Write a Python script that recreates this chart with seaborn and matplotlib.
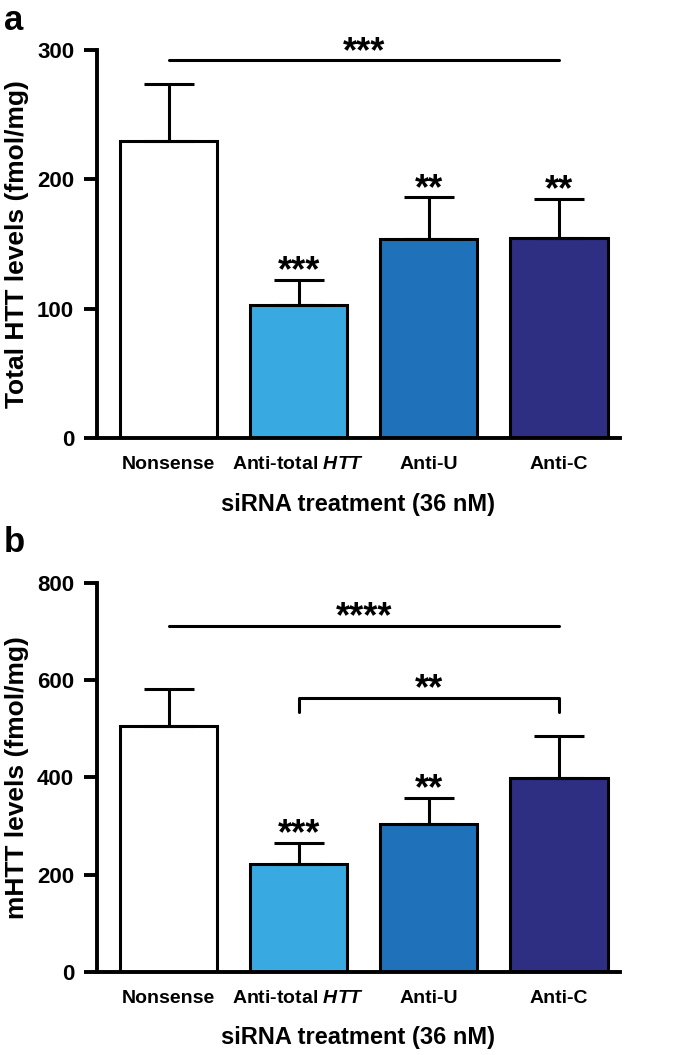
import numpy as np
import pandas as pd
import matplotlib
matplotlib.use("Agg")
import matplotlib.pyplot as plt
import seaborn as sb

groups = ["Nonsense", "Anti-total HTT", "Anti-U", "Anti-C"]
tick_labels = ["Nonsense", "Anti-total $\\mathit{HTT}$", "Anti-U", "Anti-C"]
bar_colors = ["#FFFFFF", "#38A9E1", "#1F72B9", "#2E2E83"]

total_mean = [230, 103, 154, 155]
total_err = [44, 19, 32, 30]
total_stars = ["", "***", "**", "**"]

mhtt_mean = [505, 222, 305, 398]
mhtt_err = [76, 43, 53, 87]
mhtt_stars = ["", "***", "**", ""]

sb.set_style("ticks")
plt.rcParams["font.family"] = ["Liberation Sans", "DejaVu Sans"]
plt.rcParams["font.weight"] = "bold"
plt.rcParams["mathtext.fontset"] = "custom"
plt.rcParams["mathtext.it"] = "Liberation Sans:italic:bold"
plt.rcParams["mathtext.rm"] = "Liberation Sans:bold"
for k in ["text.color", "axes.labelcolor", "xtick.color", "ytick.color", "axes.edgecolor"]:
    plt.rcParams[k] = "black"

fig = plt.figure(figsize=(6.85, 10.55), dpi=100)
ax1 = fig.add_axes([0.1416, 0.5848, 0.7634, 0.3678])
ax2 = fig.add_axes([0.1416, 0.0787, 0.7634, 0.3687])


def stars_at(ax, x, y, s):
    ax.annotate(s, (x, y), xytext=(0, -1), textcoords="offset points",
                ha="center", va="baseline", fontsize=26, fontweight="bold",
                annotation_clip=False)


def draw_panel(ax, means, errs, stars, ymax, step, ylab):
    df = pd.DataFrame({"group": groups, "value": means})
    sb.barplot(data=df, x="group", y="value", hue="group", palette=bar_colors,
               saturation=1, edgecolor="black", linewidth=2.2, width=0.75,
               errorbar=None, legend=False, ax=ax)
    ax.errorbar(range(len(groups)), means, yerr=[np.zeros(len(errs)), errs],
                fmt="none", ecolor="black", elinewidth=2.2, capsize=18, capthick=2.2)
    for i, s in enumerate(stars):
        if s:
            stars_at(ax, i, means[i] + errs[i], s)
    ax.set_ylim(0, ymax)
    ax.set_xlim(-0.55, 3.47)
    ax.set_yticks(np.arange(0, ymax + 1, step))
    ax.set_xticks(range(len(groups)))
    ax.set_xticklabels(tick_labels)
    ax.set_xlabel("siRNA treatment (36 nM)", fontsize=17, fontweight="bold", labelpad=14)
    ax.set_ylabel(ylab, fontsize=19, fontweight="bold")
    ax.yaxis.set_label_coords(-0.13, 0.5)
    for sp in ["top", "right"]:
        ax.spines[sp].set_visible(False)
    for sp in ["left", "bottom"]:
        ax.spines[sp].set_linewidth(2.8)
    ax.tick_params(axis="y", width=2.8, length=9.5, labelsize=16, pad=7)
    ax.tick_params(axis="x", length=0, labelsize=14, pad=13)
    for lab in ax.get_yticklabels() + ax.get_xticklabels():
        lab.set_fontweight("bold")


draw_panel(ax1, total_mean, total_err, total_stars, 300, 100,
           "Total HTT levels (fmol/mg)")
draw_panel(ax2, mhtt_mean, mhtt_err, mhtt_stars, 800, 200,
           "mHTT levels (fmol/mg)")

fig.text(4 / 685, 1 - 4 / 1055, "a", fontsize=25, fontweight="bold", va="top", ha="left")
fig.text(4 / 685, 1 - 526 / 1055, "b", fontsize=25, fontweight="bold", va="top", ha="left")

# comparison lines
ax1.plot([0, 3], [292, 292], color="black", lw=2.2, clip_on=False)
stars_at(ax1, 1.5, 292, "***")

ax2.plot([0, 3], [711, 711], color="black", lw=2.2, clip_on=False)
stars_at(ax2, 1.5, 711, "****")
ax2.plot([1, 1, 3, 3], [535, 563, 563, 535], color="black", lw=2.2)
stars_at(ax2, 2, 563, "**")

fig.savefig("out.png", dpi=100)
